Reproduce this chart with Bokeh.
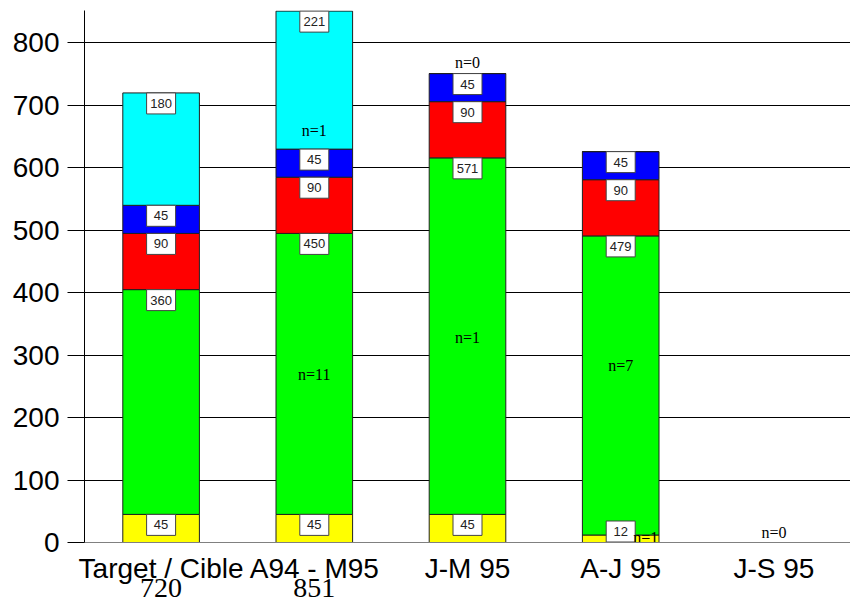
from bokeh.plotting import figure
from bokeh.models import ColumnDataSource, FactorRange, Range1d, SingleIntervalTicker, CategoricalAxis
from bokeh.core.properties import value
from bokeh.embed import file_html
from bokeh.resources import INLINE

categories = ["Target / Cible", "A94 - M95", "J-M 95", "A-J 95", "J-S 95"]
yellow = [45, 45, 45, 12, 0]
green = [360, 450, 571, 479, 0]
red = [90, 90, 90, 90, 0]
blue = [45, 45, 45, 45, 0]
cyan = [180, 221, 0, 0, 0]
totals = ["720", "851", " ", "  ", "   "]

n_cat = ["A94 - M95", "A94 - M95", "J-M 95", "J-M 95", "A-J 95", "A-J 95", "J-S 95"]
n_txt = ["n=11", "n=1", "n=0", "n=1", "n=7", "n=1", "n=0"]
n_y = [269, 660, 768, 329, 284, 8, 16]
n_dx = [0, 0, 0, 0, 0, 25, 0]

series = ["yellow", "green", "red", "blue", "cyan"]
colors = ["#FFFF00", "#00FF00", "#FF0000", "#0000FF", "#00FFFF"]
values = [yellow, green, red, blue, cyan]

Y_MAX = 852
FRAME_H = 532
px = Y_MAX / FRAME_H  # data units per pixel

data = {"cat": categories}
for s, v in zip(series, values):
    data[s] = v
src = ColumnDataSource(data)

p = figure(x_range=FactorRange(*categories, range_padding=0), y_range=Range1d(0, Y_MAX),
           width=850, height=605, output_backend="svg", toolbar_location=None,
           min_border_left=84, min_border_right=0, min_border_top=10, min_border_bottom=63)
p.extra_x_ranges = {"tot": FactorRange(*totals, range_padding=0)}
p.outline_line_color = None
p.background_fill_color = "white"

p.vbar_stack(series, x="cat", width=0.5, source=src, color=colors,
             line_color="#202020", line_width=1)

# value labels at top of each segment (boxed)
lx, ly, lt = [], [], []
for i, c in enumerate(categories):
    cum = 0
    for v in values:
        cum += v[i]
        if v[i] > 0:
            lx.append(c)
            ly.append(max(cum - 10.5 * px, 11 * px))
            lt.append(str(v[i]))
lsrc = ColumnDataSource(dict(x=lx, y=ly, t=lt))
p.rect(x="x", y="y", width=29, height=21, width_units="screen", height_units="screen",
       source=lsrc, fill_color="white", line_color="#444444", line_width=1)
p.text(x="x", y="y", text="t", source=lsrc, text_align="center", text_baseline="middle",
       text_font=value("Liberation Sans"), text_font_size="13px", text_color="#222222")

nsrc = ColumnDataSource(dict(x=n_cat, y=n_y, t=n_txt, dx=n_dx))
p.text(x="x", y="y", text="t", x_offset="dx", source=nsrc, text_align="center",
       text_baseline="middle", text_font=value("Liberation Serif"), text_font_size="16px",
       text_color="black")

p.yaxis.ticker = SingleIntervalTicker(interval=100)
p.yaxis.minor_tick_line_color = None
p.yaxis.major_tick_out = 17
p.yaxis.major_tick_in = 0
p.yaxis.major_tick_line_color = "black"
p.yaxis.axis_line_color = "black"
p.yaxis.major_label_text_font = "Liberation Sans"
p.yaxis.major_label_text_font_size = "28px"
p.yaxis.major_label_text_color = "black"
p.yaxis.major_label_standoff = 8

p.xaxis.axis_line_color = "#808080"
p.xaxis.major_tick_line_color = None
p.xaxis.minor_tick_line_color = None
p.xaxis.major_label_text_font = "Liberation Sans"
p.xaxis.major_label_text_font_size = "28px"
p.xaxis.major_label_text_color = "black"
p.xaxis.major_label_standoff = 4

ax2 = CategoricalAxis(x_range_name="tot",
                      axis_line_color=None, major_tick_line_color=None,
                      minor_tick_line_color=None, major_label_text_font="Liberation Serif",
                      major_label_text_font_size="28px", major_label_text_color="black",
                      major_label_standoff=-21)
p.add_layout(ax2, "below")

p.xgrid.grid_line_color = None
p.ygrid.grid_line_color = "black"
p.ygrid.grid_line_alpha = 1.0

open("out.html", "w").write(file_html(p, INLINE))
